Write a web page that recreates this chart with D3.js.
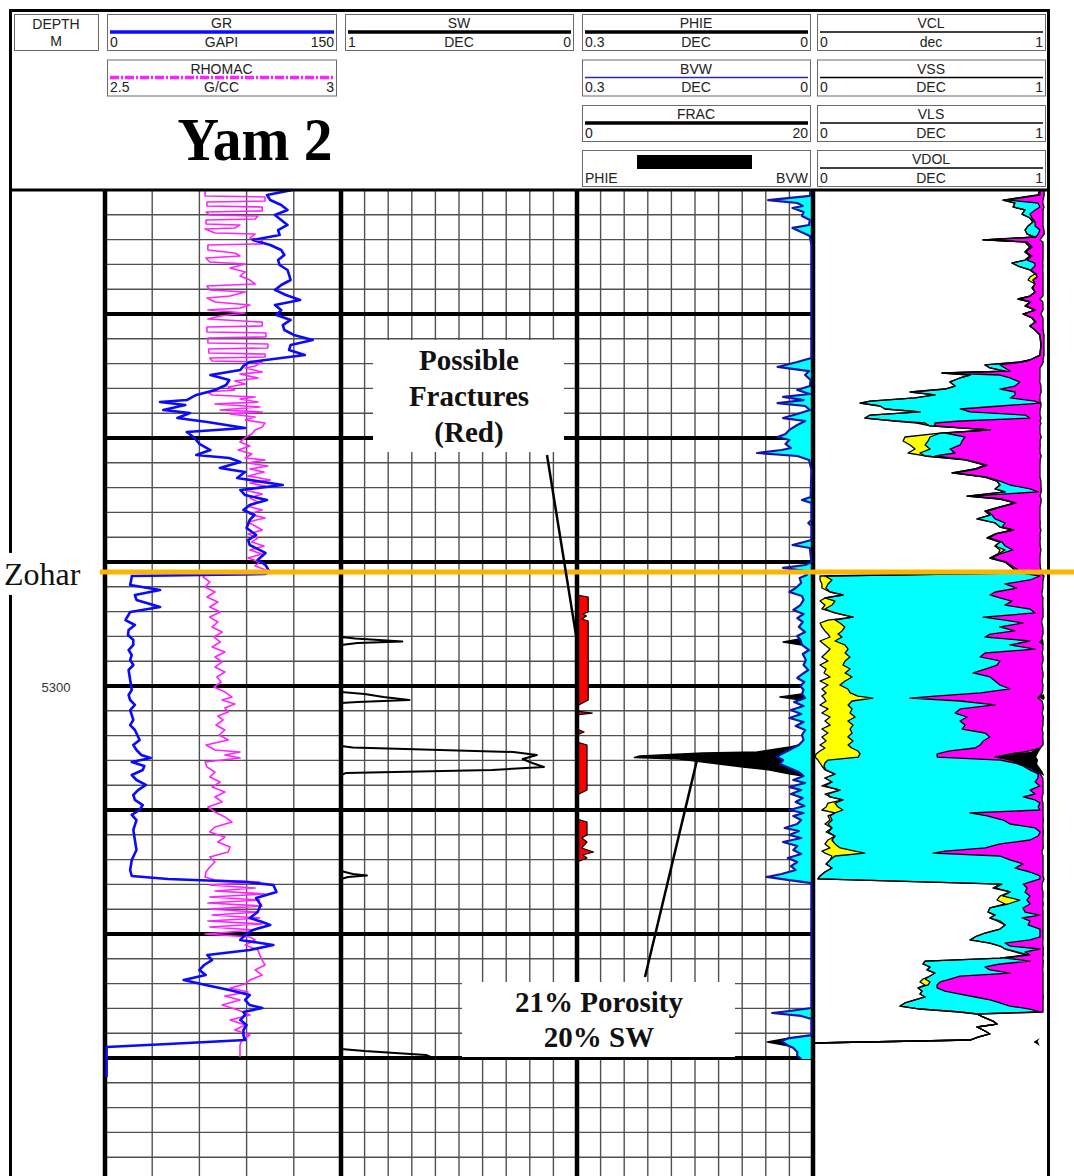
<!DOCTYPE html>
<html>
<head>
<meta charset="utf-8">
<script src="https://cdn.jsdelivr.net/npm/d3@7"></script>
<style>
html,body{margin:0;padding:0;background:#fff;}
svg{display:block;}
</style>
</head>
<body>
<svg id="chart" width="1074" height="1176"></svg>
<script>
// ================= DATA =================
const wellName = "Yam 2";
const formationName = "Zohar";
const formationDepth = 5290.8;
const depthLabels = [5300];
const annoFracText = ["Possible", "Fractures", "(Red)"];
const annoPayText = ["21% Porosity", "20% SW"];

// [depth m, GR gAPI]
const grLog = [[5260.00,119],[5260.40,103],[5260.81,105],[5261.21,112],[5261.61,116],[5262.02,108],[5262.42,112],[5262.82,116],[5263.23,110],[5263.63,111],[5264.03,94],[5264.44,105],[5264.84,112],[5265.24,114],[5265.65,110],[5266.05,111],[5266.45,116],[5266.85,117],[5267.26,118],[5267.66,112],[5268.06,108],[5268.47,115],[5268.87,124],[5269.27,108],[5269.68,112],[5270.08,109],[5270.48,118],[5270.89,113],[5271.29,114],[5271.69,120],[5272.10,132],[5272.50,118],[5272.90,117],[5273.31,127],[5273.55,112],[5273.87,92],[5274.19,88],[5274.52,86],[5274.92,67],[5275.32,79],[5275.73,77],[5276.13,70],[5276.53,58],[5276.94,52],[5277.10,35],[5277.34,51],[5277.74,37],[5277.98,54],[5278.39,46],[5278.71,65],[5278.95,77],[5279.19,89],[5279.52,52],[5280.00,57],[5280.48,60],[5280.97,67],[5281.37,58],[5281.61,79],[5281.94,86],[5282.42,73],[5282.74,89],[5283.23,84],[5283.79,113],[5284.19,86],[5284.60,89],[5285.00,103],[5285.40,92],[5285.81,88],[5286.21,95],[5286.61,92],[5287.26,90],[5287.82,96],[5288.23,91],[5288.63,92],[5289.27,102],[5289.84,97],[5290.24,102],[5290.65,104],[5290.97,102],[5291.13,17],[5291.21,17],[5291.85,16],[5292.26,35],[5292.66,19],[5293.06,20],[5293.63,35],[5294.03,16],[5294.68,13],[5295.08,19],[5295.48,15],[5295.89,14.6],[5296.29,18],[5296.69,18],[5297.10,15],[5297.50,17],[5297.90,16],[5298.31,18],[5298.71,15],[5299.52,16],[5300.32,17],[5300.73,15],[5301.13,16],[5301.53,19],[5301.94,16],[5302.74,18],[5303.15,16],[5303.55,19],[5304.35,22],[5304.76,18],[5305.16,20],[5305.56,23],[5305.81,29],[5306.13,17],[5306.45,25],[5306.77,24],[5307.18,17],[5307.58,20],[5307.98,26],[5308.39,21],[5308.79,18],[5309.19,19],[5309.60,24],[5310.00,22],[5310.40,17],[5310.81,20],[5311.61,18],[5312.42,19],[5313.23,20],[5314.03,17],[5314.84,16],[5315.32,17],[5315.56,40],[5315.81,90],[5316.05,107],[5316.61,109],[5317.10,96],[5317.66,99],[5318.23,97],[5318.71,92],[5319.03,100],[5319.27,105],[5319.68,94],[5320.08,89],[5320.48,86],[5320.89,107],[5321.29,92],[5321.69,65],[5322.10,68],[5322.50,63],[5322.90,60],[5323.31,64],[5323.71,50],[5324.11,64],[5324.52,79],[5324.92,92],[5325.32,89],[5325.73,92],[5325.97,100],[5326.29,88],[5326.53,89],[5326.94,86],[5327.34,90],[5327.74,88],[5328.15,88],[5328.55,89],[5328.87,40],[5329.11,1],[5331.53,1]];

// [depth m, RHOMAC g/cc]
const rhomacLog = [[5260.00,2.712],[5260.48,2.712],[5260.56,2.839],[5260.89,2.839],[5260.97,2.716],[5261.29,2.716],[5261.37,2.833],[5261.69,2.833],[5261.77,2.714],[5262.02,2.722],[5262.10,2.824],[5262.34,2.818],[5262.42,2.714],[5262.74,2.714],[5262.82,2.786],[5263.06,2.775],[5263.15,2.712],[5263.47,2.733],[5263.55,2.818],[5263.87,2.807],[5264.03,2.833],[5264.35,2.833],[5264.44,2.718],[5264.84,2.718],[5265.08,2.775],[5265.32,2.786],[5265.48,2.714],[5265.81,2.722],[5265.97,2.797],[5266.29,2.765],[5266.61,2.797],[5266.94,2.786],[5267.26,2.807],[5267.58,2.818],[5267.74,2.716],[5268.06,2.722],[5268.23,2.797],[5268.55,2.765],[5268.71,2.716],[5269.03,2.733],[5269.27,2.807],[5269.52,2.786],[5269.68,2.718],[5269.92,2.797],[5270.16,2.744],[5270.40,2.718],[5270.65,2.833],[5270.97,2.833],[5271.05,2.716],[5271.45,2.716],[5271.53,2.841],[5271.85,2.841],[5271.94,2.718],[5272.34,2.718],[5272.42,2.845],[5272.74,2.845],[5272.82,2.720],[5273.15,2.720],[5273.23,2.839],[5273.47,2.839],[5273.55,2.722],[5273.79,2.727],[5273.87,2.833],[5274.19,2.818],[5274.35,2.797],[5274.68,2.833],[5274.84,2.786],[5275.16,2.824],[5275.40,2.775],[5275.65,2.797],[5275.89,2.761],[5276.13,2.775],[5276.29,2.716],[5276.53,2.727],[5276.69,2.818],[5276.85,2.786],[5277.10,2.824],[5277.26,2.733],[5277.50,2.828],[5277.74,2.744],[5277.90,2.833],[5278.06,2.765],[5278.31,2.818],[5278.55,2.797],[5278.79,2.839],[5279.11,2.833],[5279.35,2.818],[5279.68,2.811],[5279.92,2.799],[5280.32,2.786],[5280.65,2.807],[5280.97,2.782],[5281.29,2.811],[5281.61,2.797],[5281.77,2.839],[5282.02,2.803],[5282.26,2.845],[5282.50,2.807],[5282.74,2.837],[5283.06,2.803],[5283.39,2.850],[5283.63,2.807],[5283.87,2.839],[5284.19,2.797],[5284.52,2.833],[5284.84,2.807],[5285.16,2.824],[5285.48,2.801],[5285.81,2.833],[5286.13,2.807],[5286.45,2.839],[5286.77,2.803],[5287.10,2.818],[5287.42,2.833],[5287.74,2.803],[5288.06,2.824],[5288.39,2.811],[5288.71,2.837],[5289.03,2.807],[5289.35,2.833],[5289.68,2.803],[5290.00,2.828],[5290.32,2.818],[5290.65,2.841],[5290.97,2.845],[5291.05,2.712],[5291.21,2.708],[5291.61,2.722],[5292.02,2.712],[5292.42,2.733],[5292.82,2.716],[5293.23,2.739],[5293.63,2.722],[5294.03,2.744],[5294.44,2.722],[5294.84,2.739],[5295.24,2.727],[5295.65,2.748],[5296.05,2.731],[5296.45,2.744],[5296.85,2.727],[5297.26,2.754],[5297.66,2.733],[5298.06,2.748],[5298.47,2.733],[5298.87,2.754],[5299.27,2.737],[5299.68,2.746],[5300.08,2.731],[5300.48,2.754],[5300.89,2.769],[5301.13,2.748],[5301.45,2.775],[5301.77,2.754],[5302.10,2.761],[5302.42,2.739],[5302.74,2.750],[5303.15,2.735],[5303.55,2.754],[5303.95,2.742],[5304.35,2.761],[5304.76,2.714],[5305.16,2.733],[5305.32,2.786],[5305.56,2.754],[5305.81,2.786],[5306.13,2.712],[5306.53,2.716],[5306.94,2.733],[5307.34,2.722],[5307.74,2.744],[5308.15,2.727],[5308.55,2.754],[5308.95,2.733],[5309.35,2.748],[5309.76,2.718],[5310.16,2.733],[5310.56,2.754],[5310.97,2.769],[5311.37,2.733],[5311.77,2.722],[5312.18,2.754],[5312.58,2.739],[5312.98,2.765],[5313.39,2.761],[5313.79,2.722],[5314.19,2.733],[5314.60,2.722],[5315.00,2.714],[5315.40,2.712],[5315.65,2.733],[5315.81,2.828],[5316.05,2.722],[5316.29,2.818],[5316.53,2.733],[5316.77,2.839],[5317.02,2.722],[5317.26,2.828],[5317.50,2.718],[5317.74,2.833],[5317.98,2.722],[5318.23,2.824],[5318.47,2.727],[5318.71,2.828],[5318.95,2.718],[5319.19,2.833],[5319.44,2.722],[5319.68,2.818],[5320.00,2.712],[5320.24,2.807],[5320.48,2.818],[5320.89,2.797],[5321.29,2.824],[5321.69,2.828],[5322.10,2.833],[5322.50,2.839],[5322.90,2.818],[5323.31,2.833],[5323.71,2.807],[5324.03,2.797],[5324.35,2.765],[5324.68,2.803],[5325.00,2.754],[5325.32,2.786],[5325.73,2.748],[5326.13,2.782],[5326.53,2.807],[5326.94,2.765],[5327.34,2.797],[5327.74,2.775],[5328.15,2.807],[5328.55,2.790],[5328.95,2.786],[5329.92,2.786]];

// [depth m, SW dec]
const swLog = [[5260.00,1],[5296.05,1],[5296.17,0.94],[5296.41,0.74],[5296.53,0.93],[5296.69,1],[5300.48,1],[5300.65,0.90],[5300.89,0.82],[5301.13,0.71],[5301.29,0.93],[5301.37,1],[5304.84,1],[5304.96,0.95],[5305.32,0.27],[5305.56,0.17],[5305.89,0.23],[5306.21,0.19],[5306.53,0.14],[5306.77,0.36],[5307.02,0.98],[5307.18,1],[5314.92,1],[5315.16,0.95],[5315.28,0.89],[5315.40,0.97],[5315.56,1],[5329.27,1],[5329.44,0.90],[5329.76,0.64],[5329.92,0.62],[5330.08,1]];

// [depth m, BVW dec]
const bvwLog = [[5260.00,0.003],[5260.48,0.004],[5260.81,0.057],[5261.05,0.02],[5261.29,0.013],[5261.45,0.026],[5261.77,0.012],[5262.10,0.014],[5262.42,0.004],[5262.82,0.005],[5263.06,0.026],[5263.39,0.015],[5263.71,0.004],[5264.44,0.002],[5273.55,0.002],[5273.87,0.02],[5274.27,0.045],[5274.60,0.005],[5274.92,0.01],[5275.32,0.003],[5275.81,0.004],[5276.13,0.02],[5276.45,0.004],[5276.69,0.038],[5276.94,0.012],[5277.18,0.045],[5277.42,0.01],[5277.74,0.004],[5278.06,0.02],[5278.39,0.038],[5278.63,0.01],[5278.95,0.02],[5279.35,0.03],[5279.68,0.035],[5279.92,0.045],[5280.16,0.03],[5280.48,0.035],[5280.81,0.028],[5280.97,0.04],[5281.21,0.071],[5281.45,0.02],[5281.77,0.005],[5282.58,0.002],[5284.76,0.003],[5285.00,0.014],[5285.24,0.002],[5286.61,0.002],[5286.85,0.006],[5287.10,0.002],[5288.23,0.002],[5288.63,0.026],[5288.87,0.004],[5290.00,0.002],[5290.24,0.01],[5290.48,0.038],[5290.73,0.01],[5291.05,0.008],[5291.29,0.017],[5291.69,0.015],[5292.10,0.022],[5292.42,0.03],[5292.74,0.014],[5293.06,0.012],[5293.47,0.016],[5293.87,0.025],[5294.19,0.012],[5294.52,0.02],[5294.84,0.013],[5295.24,0.018],[5295.65,0.01],[5295.97,0.02],[5296.29,0.016],[5296.69,0.014],[5297.10,0.005],[5297.42,0.013],[5297.90,0.009],[5298.31,0.012],[5298.71,0.006],[5299.11,0.015],[5299.35,0.02],[5299.68,0.011],[5300.00,0.016],[5300.32,0.012],[5300.65,0.014],[5300.97,0.01],[5301.29,0.024],[5301.61,0.012],[5301.94,0.028],[5302.26,0.015],[5302.58,0.03],[5302.90,0.012],[5303.23,0.022],[5303.55,0.01],[5303.95,0.014],[5304.35,0.012],[5304.76,0.018],[5305.16,0.03],[5305.48,0.04],[5305.73,0.046],[5305.97,0.038],[5306.29,0.042],[5306.61,0.03],[5306.94,0.018],[5307.26,0.012],[5307.58,0.025],[5307.82,0.01],[5308.15,0.03],[5308.39,0.015],[5308.71,0.028],[5309.03,0.013],[5309.35,0.022],[5309.68,0.011],[5310.00,0.03],[5310.24,0.012],[5310.48,0.025],[5310.81,0.015],[5311.13,0.02],[5311.45,0.036],[5311.69,0.018],[5312.02,0.03],[5312.26,0.015],[5312.58,0.038],[5312.90,0.02],[5313.23,0.025],[5313.55,0.015],[5313.87,0.032],[5314.19,0.02],[5314.52,0.028],[5314.84,0.022],[5315.16,0.04],[5315.40,0.059],[5315.65,0.03],[5315.89,0.002],[5325.97,0.002],[5326.21,0.03],[5326.37,0.052],[5326.61,0.015],[5326.85,0.002],[5328.15,0.002],[5328.39,0.03],[5328.63,0.04],[5328.87,0.035],[5329.19,0.025],[5329.52,0.02],[5329.84,0.02],[5330.08,0.015]];

// PHIE where it departs from BVW (elsewhere PHIE = BVW): [depth m, PHIE dec]
const phieSpikes = [
  [[5296.21,0.017],[5296.45,0.038],[5296.69,0.014]],
  [[5300.65,0.014],[5300.89,0.042],[5301.13,0.015]],
  [[5304.76,0.018],[5304.92,0.029],[5305.00,0.038],[5305.32,0.071],[5305.40,0.14],[5305.65,0.22],[5305.77,0.227],[5305.89,0.17],[5306.13,0.14],[5306.53,0.089],[5306.77,0.055],[5307.10,0.029],[5307.26,0.012]],
  [[5328.39,0.03],[5328.71,0.058],[5329.03,0.03]]
];

// [depth m, FRAC]
const fracLog = [[5260.00,0],[5292.66,0],[5292.82,0.95],[5294.03,0.95],[5294.19,0.5],[5294.35,0.8],[5294.60,0.4],[5294.76,0.95],[5301.13,0.95],[5301.61,0],[5302.02,0],[5302.18,1.3],[5302.34,0],[5303.47,0],[5303.71,0.6],[5303.95,0],[5304.52,0],[5304.76,0.85],[5308.39,0.85],[5308.79,0],[5310.73,0],[5310.97,0.85],[5312.02,0.85],[5312.26,0.4],[5312.58,0.85],[5313.06,0.4],[5313.39,1.4],[5313.63,0.5],[5313.87,0.85],[5314.19,0],[5330.08,0]];

// lithology volumes: [depth m, VCL, VSS, VLS, VDOL]
const lithCols = ["VCL", "VSS", "VLS", "VDOL"];
const lithLog = [[5260.00,.970,0,0,.017],[5260.40,.962,0,.009,.017],[5260.81,.812,0,.021,.150],[5261.05,.863,0,.098,.021],[5261.37,.855,0,.115,.017],[5261.61,.906,0,.043,.034],[5261.94,.893,0,.034,.056],[5262.26,.927,0,.009,.047],[5262.58,.940,0,.009,.034],[5262.90,.919,0,.030,.034],[5263.23,.906,0,.064,.017],[5263.55,.915,0,.047,.026],[5263.79,.949,0,.004,.026],[5264.03,.726,0,.009,.235],[5264.19,.906,0,.009,.068],[5264.60,.927,0,.009,.047],[5265.00,.906,0,.004,.073],[5265.32,.927,0,.009,.047],[5265.65,.906,0,.009,.068],[5265.89,.850,0,.098,.034],[5266.13,.876,0,.073,.034],[5266.45,.927,0,.004,.051],[5266.77,.949,.004,0,.030],[5267.02,.927,.030,0,.026],[5267.26,.919,.021,0,.043],[5267.58,.949,0,0,.034],[5267.90,.936,0,.004,.043],[5268.23,.949,0,0,.034],[5268.55,.927,0,0,.056],[5268.79,.876,0,.004,.090],[5269.03,.927,0,.004,.051],[5269.35,.906,0,.004,.073],[5269.68,.949,0,0,.034],[5270.00,.897,0,.004,.073],[5270.32,.936,0,0,.047],[5270.65,.949,0,.004,.030],[5270.97,.927,0,0,.056],[5271.29,.949,0,0,.034],[5271.69,.970,0,0,.017],[5272.50,.974,0,0,.013],[5273.31,.970,0,0,.017],[5273.71,.927,0,0,.056],[5273.87,.885,0,.009,.090],[5274.11,.735,0,.064,.179],[5274.35,.756,0,.064,.150],[5274.60,.821,0,.021,.128],[5274.76,.551,0,.013,.406],[5274.92,.671,0,.128,.171],[5275.16,.628,0,.214,.128],[5275.48,.585,0,.299,.085],[5275.81,.607,0,.256,.111],[5276.05,.564,0,.235,.175],[5276.29,.415,0,.449,.111],[5276.53,.521,0,.342,.107],[5276.77,.436,0,.406,.128],[5277.02,.244,0,.705,.021],[5277.18,.201,0,.769,.004],[5277.42,.286,0,.513,.175],[5277.66,.308,0,.321,.342],[5277.90,.457,0,.214,.299],[5278.15,.244,0,.662,.064],[5278.39,.222,0,.705,.047],[5278.63,.350,0,.278,.342],[5278.79,.444,.034,.043,.453],[5279.03,.500,0,.021,.449],[5279.35,.756,0,0,.214],[5279.60,.543,0,.021,.406],[5279.92,.393,.107,.150,.325],[5280.24,.385,.107,.145,.333],[5280.56,.415,.064,.150,.342],[5280.89,.436,.064,.085,.385],[5281.21,.406,.051,.150,.363],[5281.45,.479,0,.043,.453],[5281.77,.650,0,.009,.312],[5282.18,.735,0,.009,.226],[5282.50,.692,0,.009,.269],[5282.82,.594,0,.013,.363],[5283.15,.735,0,.009,.226],[5283.47,.786,0,.013,.175],[5283.79,.799,0,.043,.132],[5284.11,.778,0,.150,.047],[5284.35,.821,0,.141,.013],[5284.68,.658,0,.013,.299],[5284.92,.799,0,.009,.167],[5285.24,.863,0,.004,.107],[5285.56,.799,0,.009,.162],[5285.89,.735,0,.009,.226],[5286.21,.756,0,.009,.205],[5286.53,.701,0,.077,.192],[5286.85,.778,0,.043,.150],[5287.18,.799,0,.009,.162],[5287.42,.855,0,.004,.115],[5287.74,.778,0,.004,.188],[5288.06,.744,0,.009,.218],[5288.39,.799,0,.009,.162],[5288.71,.778,0,.043,.150],[5289.03,.799,.021,.034,.120],[5289.35,.791,0,.009,.171],[5289.68,.756,0,.009,.205],[5290.00,.821,0,.004,.145],[5290.32,.842,0,.009,.120],[5290.65,.863,0,.013,.098],[5290.89,.885,0,.009,.081],[5291.13,.030,.021,.919,.017],[5291.45,.030,.051,.846,.056],[5291.77,.038,.026,.756,.162],[5292.10,.038,.017,.816,.111],[5292.42,.073,0,.705,.201],[5292.66,.128,0,.628,.222],[5292.90,.051,0,.748,.184],[5293.15,.030,.064,.756,.132],[5293.47,.051,.030,.739,.162],[5293.79,.038,.013,.876,.056],[5294.11,.094,0,.855,.034],[5294.44,.171,0,.556,.256],[5294.68,.064,.030,.726,.158],[5294.92,.030,.085,.782,.081],[5295.24,.038,.098,.662,.184],[5295.56,.051,.073,.739,.120],[5295.81,.064,.043,.650,.226],[5296.05,.073,.051,.611,.244],[5296.37,.030,.064,.833,.051],[5296.69,.051,.085,.705,.141],[5297.02,.073,.077,.799,.034],[5297.34,.056,.081,.598,.244],[5297.66,.038,.120,.556,.269],[5297.98,.064,.073,.662,.184],[5298.31,.030,.098,.658,.192],[5298.63,.056,.103,.577,.244],[5298.95,.047,.090,.547,.299],[5299.27,.073,.094,.590,.226],[5299.60,.030,.107,.641,.201],[5299.92,.064,.051,.684,.184],[5300.24,.038,.111,.692,.141],[5300.56,.056,.103,.556,.265],[5300.81,.038,.154,.329,.449],[5300.97,.047,.209,.158,.547],[5301.21,.056,.111,.462,.350],[5301.53,.030,.120,.628,.205],[5301.85,.064,.103,.462,.355],[5302.18,.038,.120,.449,.372],[5302.50,.073,.107,.479,.325],[5302.82,.051,.098,.479,.355],[5303.15,.073,.098,.479,.333],[5303.47,.038,.120,.479,.342],[5303.79,.064,.103,.568,.248],[5304.11,.038,.111,.607,.226],[5304.44,.056,.115,.556,.256],[5304.76,.030,.120,.564,.269],[5305.00,.051,.115,.526,.278],[5305.24,.030,.162,.393,.342],[5305.48,.013,.188,.329,.312],[5305.73,.009,.184,.338,.252],[5305.97,.021,.043,.737,.043],[5306.21,.030,.021,.812,.017],[5306.45,.038,.009,.850,.013],[5306.77,.051,.004,.872,.017],[5307.10,.094,0,.868,.009],[5307.42,.051,0,.910,.021],[5307.74,.081,0,.868,.034],[5308.06,.038,.013,.919,.013],[5308.39,.115,0,.812,.056],[5308.71,.051,.013,.885,.034],[5308.95,.073,0,.825,.081],[5309.19,.128,0,.821,.030],[5309.44,.064,.030,.876,.013],[5309.76,.056,.051,.855,.021],[5310.00,.038,.090,.842,.013],[5310.24,.094,0,.577,.312],[5310.48,.064,.009,.671,.239],[5310.81,.073,.009,.731,.171],[5311.13,.051,.013,.778,.141],[5311.45,.081,0,.868,.034],[5311.77,.056,.009,.906,.013],[5312.10,.094,0,.868,.021],[5312.42,.064,.017,.846,.056],[5312.74,.051,.043,.705,.184],[5313.06,.073,.043,.620,.248],[5313.31,.038,.141,.385,.415],[5313.47,.051,.171,.291,.466],[5313.71,.081,.013,.705,.184],[5314.03,.073,0,.769,.141],[5314.35,.056,0,.842,.085],[5314.68,.081,0,.782,.120],[5315.00,.051,0,.876,.056],[5315.32,.030,0,.940,.013],[5315.56,.021,0,.949,.017],[5315.97,.799,.009,.090,.081],[5316.29,.769,.009,.137,.064],[5316.61,.842,0,.064,.077],[5316.94,.799,.013,.115,.056],[5317.26,.786,.098,.030,.068],[5317.58,.821,.013,.094,.056],[5317.90,.756,0,.141,.085],[5318.23,.748,0,.158,.077],[5318.47,.778,0,.192,.013],[5318.71,.756,0,.137,.090],[5318.95,.786,.013,.128,.056],[5319.27,.821,0,.098,.064],[5319.60,.799,0,.171,.013],[5319.92,.735,0,.235,.013],[5320.24,.692,0,.278,.013],[5320.48,.671,0,.256,.056],[5320.73,.756,0,.064,.162],[5320.97,.799,0,.043,.141],[5321.21,.821,0,.150,.013],[5321.45,.863,.009,.034,.077],[5321.69,.906,.013,.009,.056],[5321.94,.799,0,.021,.162],[5322.18,.479,0,.449,.056],[5322.42,.470,0,.329,.184],[5322.66,.500,0,.235,.248],[5322.90,.487,0,.269,.226],[5323.15,.521,0,.321,.141],[5323.39,.500,0,.128,.355],[5323.63,.470,.009,.107,.397],[5323.87,.457,.043,.043,.440],[5324.11,.479,.013,.038,.453],[5324.35,.449,0,.081,.453],[5324.60,.466,0,.098,.419],[5324.84,.457,0,.171,.355],[5325.08,.479,0,.214,.291],[5325.32,.436,0,.321,.226],[5325.56,.393,0,.406,.184],[5325.81,.372,0,.470,.141],[5326.05,.457,0,.470,.056],[5326.29,.628,0,.342,.013],[5326.45,.701,0,0,0],[5326.69,.726,0,0,0],[5327.02,.769,0,0,0],[5327.26,.786,0,0,0],[5327.50,.701,0,0,0],[5327.82,.735,0,0,0],[5328.06,.756,0,0,0],[5328.31,.705,0,0,0],[5328.55,.671,0,0,0],[5328.79,0,0,0,0],[5330.00,0,0,0,0]];

// header captions: [column, row, mnemonic, left, unit, right]
const headerCurves = [
  [1,0,"GR","0","GAPI","150"],
  [1,1,"RHOMAC","2.5","G/CC","3"],
  [2,0,"SW","1","DEC","0"],
  [3,0,"PHIE","0.3","DEC","0"],
  [3,1,"BVW","0.3","DEC","0"],
  [3,2,"FRAC","0","","20"],
  [4,0,"VCL","0","dec","1"],
  [4,1,"VSS","0","DEC","1"],
  [4,2,"VLS","0","DEC","1"],
  [4,3,"VDOL","0","DEC","1"]
];

// ================= DRAWING =================
const SANS = "'Liberation Sans', Arial, Helvetica, sans-serif";
const SERIF = "'Liberation Serif', 'Times New Roman', Times, serif";
const svg = d3.select("#chart");
const TOP = 190, BOT = 1176;

const y = d3.scaleLinear().domain([5260, 5340]).range([190, 1182]);
const T1 = [105, 341], T2 = [341, 577], T3 = [577, 813], T4 = [813, 1047];
const xGR = d3.scaleLinear().domain([0, 150]).range(T1);
const xRho = d3.scaleLinear().domain([2.5, 3]).range(T1);
const xSW = d3.scaleLinear().domain([1, 0]).range(T2);
const xPor = d3.scaleLinear().domain([0.3, 0]).range(T3);
const xFrac = d3.scaleLinear().domain([0, 20]).range(T3);
const xLith = d3.scaleLinear().domain([0, 1]).range(T4);

svg.append("rect").attr("width", 1074).attr("height", 1176).attr("fill", "#fff");

// ---- grid ----
const grid = svg.append("g");
const vGrid = [
  [xGR, [30, 60, 90, 120]],
  [xSW, d3.range(1, 10).map(i => i / 10)],
  [xPor, d3.range(1, 10).map(i => i * 0.03)]
];
vGrid.forEach(([s, vals]) => {
  grid.selectAll(null).data(vals).enter().append("line")
    .attr("x1", d => s(d)).attr("x2", d => s(d))
    .attr("y1", TOP).attr("y2", BOT)
    .attr("stroke", "#505050").attr("stroke-width", 1.4);
});
const hDepths = d3.range(5262, 5340, 2);
grid.selectAll(null).data(hDepths.filter(d => d % 10 !== 0)).enter().append("line")
  .attr("x1", T1[0]).attr("x2", T3[1]).attr("y1", d => y(d)).attr("y2", d => y(d))
  .attr("stroke", "#505050").attr("stroke-width", 1.4);
grid.selectAll(null).data(hDepths.filter(d => d % 10 === 0)).enter().append("line")
  .attr("x1", T1[0]).attr("x2", T3[1]).attr("y1", d => y(d)).attr("y2", d => y(d))
  .attr("stroke", "#000").attr("stroke-width", 4);

// ---- track 3 fills ----
const fills = svg.append("g");
fills.append("path").datum(bvwLog)
  .attr("d", d3.area().y(d => y(d[0])).x0(xPor(0)).x1(d => xPor(d[1])))
  .attr("fill", "#00ffff");

function hcPoints(spike, xf) {
  const d0 = spike[0][0], d1 = spike[spike.length - 1][0];
  const back = bvwLog.filter(p => p[0] > d0 && p[0] < d1).reverse();
  return spike.map(p => [xf(p[1]), y(p[0])]).concat(back.map(p => [xf(p[1]), y(p[0])]));
}
phieSpikes.forEach(sp => {
  fills.append("path").attr("d", d3.line()(hcPoints(sp, xPor)) + "Z").attr("fill", "#000");
});

fills.append("path").datum(fracLog)
  .attr("d", d3.area().y(d => y(d[0])).x0(xFrac(0)).x1(d => xFrac(d[1])))
  .attr("fill", "#ff0000");

// ---- lithology (track 4) ----
const cum = lithLog.map(r => {
  const c1 = r[1], c2 = c1 + r[2], c3 = c2 + r[3], c4 = c3 + r[4];
  return {d: r[0], c: [0, c1, c2, c3, c4]};
});
const lithFill = [["#ffff00", 1, 2], ["#00ffff", 2, 3], ["#ff00ff", 3, 4]];
lithFill.forEach(([col, a, b]) => {
  fills.append("path").datum(cum)
    .attr("d", d3.area().y(d => y(d.d)).x0(d => xLith(d.c[a])).x1(d => xLith(d.c[b])))
    .attr("fill", col);
});
[1, 2, 3, 4].forEach(k => {
  fills.append("path").datum(cum)
    .attr("d", d3.line().x(d => xLith(d.c[k])).y(d => y(d.d)))
    .attr("fill", "none").attr("stroke", "#000").attr("stroke-width", 1.3).attr("stroke-linejoin", "round");
});
phieSpikes.forEach(sp => {
  fills.append("path").attr("d", d3.line()(hcPoints(sp, v => xLith(1 - v))) + "Z").attr("fill", "#000");
});

// ---- track borders ----
const borders = svg.append("g");
[T1[0], T2[0], T3[0], T4[0]].forEach(x => {
  borders.append("line").attr("x1", x).attr("x2", x).attr("y1", TOP).attr("y2", BOT)
    .attr("stroke", "#000").attr("stroke-width", 4.5);
});

// ---- curves ----
const curves = svg.append("g").attr("fill", "none").attr("stroke-linejoin", "round");
curves.append("path").datum(rhomacLog)
  .attr("d", d3.line().x(d => xRho(d[1])).y(d => y(d[0])))
  .attr("stroke", "#ff22ff").attr("stroke-width", 1.6);
curves.append("path").datum(grLog)
  .attr("d", d3.line().x(d => xGR(d[1])).y(d => y(d[0])))
  .attr("stroke", "#0a0aff").attr("stroke-width", 2.6);
curves.append("path").datum(swLog)
  .attr("d", d3.line().x(d => xSW(d[1])).y(d => y(d[0])))
  .attr("stroke", "#000").attr("stroke-width", 2);
curves.append("path").datum(fracLog)
  .attr("d", d3.line().x(d => xFrac(d[1])).y(d => y(d[0])))
  .attr("stroke", "#000").attr("stroke-width", 1.2);
phieSpikes.forEach(sp => {
  curves.append("path").datum(sp)
    .attr("d", d3.line().x(d => xPor(d[1])).y(d => y(d[0])))
    .attr("stroke", "#000").attr("stroke-width", 1.5);
});
curves.append("path").datum(bvwLog)
  .attr("d", d3.line().x(d => xPor(d[1])).y(d => y(d[0])))
  .attr("stroke", "#1414a8").attr("stroke-width", 2.2);

// ---- frame & header ----
const frame = svg.append("g").attr("stroke", "#000").attr("fill", "none");
frame.append("line").attr("x1", 10).attr("x2", 1050).attr("y1", 10.5).attr("y2", 10.5).attr("stroke-width", 3);
frame.append("line").attr("x1", 10.5).attr("x2", 10.5).attr("y1", 9).attr("y2", BOT).attr("stroke-width", 3);
frame.append("line").attr("x1", 1048.5).attr("x2", 1048.5).attr("y1", 9).attr("y2", BOT).attr("stroke-width", 3);
frame.append("line").attr("x1", 10).attr("x2", 1050).attr("y1", 190).attr("y2", 190).attr("stroke-width", 3);

const head = svg.append("g").attr("font-family", SANS).attr("font-size", 14).attr("fill", "#222");
const colX = [[14, 98], [107, 336], [345, 573], [582, 810], [817, 1045]];
const rowY = [14, 59.5, 105, 150];
const BH = 36;
function box(c, r) {
  const [x0, x1] = colX[c], y0 = rowY[r];
  head.append("rect").attr("x", x0 + 0.5).attr("y", y0 + 0.5).attr("width", x1 - x0).attr("height", BH)
    .attr("fill", "#fff").attr("stroke", "#6a6a6a").attr("stroke-width", 1);
  return {x0, x1, y0, cx: (x0 + x1) / 2};
}
const depthBox = box(0, 0);
head.append("text").attr("x", depthBox.cx).attr("y", depthBox.y0 + 15).attr("text-anchor", "middle").text("DEPTH");
head.append("text").attr("x", depthBox.cx).attr("y", depthBox.y0 + 32).attr("text-anchor", "middle").text("M");

const lineStyle = {
  GR: ["#0a0aff", 3.5, null], RHOMAC: ["#ff22ff", 3.5, "9,2,2,2"], SW: ["#000", 3.5, null],
  PHIE: ["#000", 3.5, null], BVW: ["#2a2aa8", 1.6, null], FRAC: ["#000", 3.5, null],
  VCL: ["#000", 1.4, null], VSS: ["#000", 1.4, null], VLS: ["#000", 1.4, null], VDOL: ["#000", 1.4, null]
};
headerCurves.forEach(([c, r, name, lft, unit, rgt]) => {
  const b = box(c, r);
  const st = lineStyle[name];
  head.append("text").attr("x", b.cx).attr("y", b.y0 + 14).attr("text-anchor", "middle").text(name);
  head.append("line").attr("x1", b.x0 + 3).attr("x2", b.x1 - 2).attr("y1", b.y0 + 18).attr("y2", b.y0 + 18)
    .attr("stroke", st[0]).attr("stroke-width", st[1]).attr("stroke-dasharray", st[2]);
  head.append("text").attr("x", b.x0 + 3).attr("y", b.y0 + 32.5).text(lft);
  head.append("text").attr("x", b.cx).attr("y", b.y0 + 32.5).attr("text-anchor", "middle").text(unit);
  head.append("text").attr("x", b.x1 - 2).attr("y", b.y0 + 32.5).attr("text-anchor", "end").text(rgt);
});
const lg = box(3, 3);
head.append("rect").attr("x", 637).attr("y", lg.y0 + 5).attr("width", 115).attr("height", 14).attr("fill", "#000");
head.append("text").attr("x", lg.x0 + 3).attr("y", lg.y0 + 33).text("PHIE");
head.append("text").attr("x", lg.x1 - 2).attr("y", lg.y0 + 33).attr("text-anchor", "end").text("BVW");

svg.append("text").attr("x", 255).attr("y", 160).attr("text-anchor", "middle")
  .attr("font-family", SERIF).attr("font-weight", "bold").attr("font-size", 62)
  .attr("textLength", 155).attr("lengthAdjust", "spacingAndGlyphs").attr("fill", "#000").text(wellName);

// ---- depth labels ----
svg.selectAll(null).data(depthLabels).enter().append("text")
  .attr("x", 56).attr("y", d => y(d) + 6).attr("text-anchor", "middle")
  .attr("font-family", SANS).attr("font-size", 13).attr("fill", "#333").text(d => d);

// ---- formation top ----
const yz = y(formationDepth);
svg.append("line").attr("x1", 100).attr("x2", 1074).attr("y1", yz).attr("y2", yz)
  .attr("stroke", "#fbb400").attr("stroke-width", 5);
svg.append("rect").attr("x", 0).attr("y", yz - 19).attr("width", 92).attr("height", 42).attr("fill", "#fff");
svg.append("text").attr("x", 4).attr("y", yz + 13).attr("font-family", SERIF).attr("font-size", 32)
  .attr("fill", "#111").text(formationName);

// ---- annotations ----
const ann = svg.append("g").attr("font-family", SERIF).attr("font-weight", "bold").attr("font-size", 29)
  .attr("fill", "#111").attr("text-anchor", "middle");
ann.append("rect").attr("x", 373).attr("y", 340).attr("width", 191).attr("height", 112).attr("fill", "#fff");
annoFracText.forEach((t, i) => ann.append("text").attr("x", 469).attr("y", 370 + i * 36).text(t));
ann.append("line").attr("x1", 547).attr("y1", 455).attr("x2", xFrac(0)).attr("y2", y(5296.4))
  .attr("stroke", "#000").attr("stroke-width", 2.5);

ann.append("rect").attr("x", 462).attr("y", 982).attr("width", 273).attr("height", 75).attr("fill", "#fff");
annoPayText.forEach((t, i) => ann.append("text").attr("x", 599).attr("y", 1012 + i * 35).text(t));
ann.append("line").attr("x1", 645).attr("y1", 977).attr("x2", xPor(0.147)).attr("y2", y(5305.85))
  .attr("stroke", "#000").attr("stroke-width", 2.5);
</script>
</body>
</html>
